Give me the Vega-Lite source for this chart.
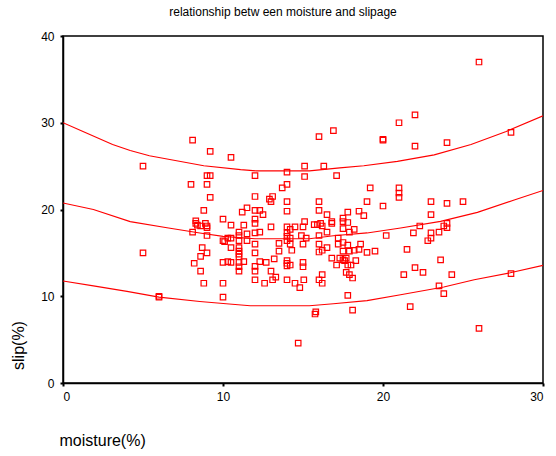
{
  "$schema": "https://vega.github.io/schema/vega-lite/v6.json",
  "width": 480,
  "height": 347,
  "autosize": {"type": "none"},
  "padding": {"left": 63, "top": 36, "right": 13, "bottom": 73},
  "background": "white",
  "title": {"text": "relationship betw een moisture and slipage", "font": "Liberation Sans", "fontSize": 12, "fontWeight": "normal", "color": "black", "offset": 11, "anchor": "middle", "dx": -20},
  "config": {
    "view": {"stroke": "black", "strokeWidth": 1.5},
    "axis": {"domainColor": "black", "domainWidth": 1.5, "tickColor": "black", "tickSize": 3, "tickWidth": 2, "grid": false, "labelFont": "Liberation Sans", "labelFontSize": 12, "labelColor": "black", "titleFont": "Liberation Sans", "titleFontSize": 16, "titleFontWeight": "normal", "titleColor": "black"}
  },
  "datasets": {
    "pts": [
      {"m":8.1,"s":28.0},{"m":9.2,"s":26.7},{"m":10.5,"s":26.0},{"m":5.0,"s":25.0},{"m":9.0,"s":23.9},{"m":9.2,"s":23.9},{"m":12.0,"s":23.9},{"m":14.0,"s":24.3},{"m":15.1,"s":25.0},{"m":15.1,"s":23.8},
      {"m":8.0,"s":22.9},{"m":9.0,"s":22.9},{"m":14.0,"s":22.9},{"m":13.7,"s":22.5},{"m":12.0,"s":21.5},{"m":9.2,"s":21.4},{"m":12.9,"s":21.2},{"m":13.1,"s":21.5},{"m":13.0,"s":20.9},{"m":14.0,"s":20.9},
      {"m":11.5,"s":20.2},{"m":26.0,"s":37.0},{"m":22.0,"s":30.9},{"m":21.0,"s":30.0},{"m":16.9,"s":29.1},{"m":16.0,"s":28.4},{"m":20.0,"s":28.1},{"m":20.0,"s":28.0},{"m":22.0,"s":27.3},{"m":24.0,"s":27.7},
      {"m":28.0,"s":28.9},{"m":16.3,"s":25.0},{"m":17.1,"s":23.9},{"m":19.2,"s":22.5},{"m":21.0,"s":22.5},{"m":21.0,"s":21.9},{"m":21.0,"s":21.4},{"m":16.0,"s":20.9},{"m":19.0,"s":20.9},{"m":20.0,"s":20.4},
      {"m":23.0,"s":20.9},{"m":24.0,"s":20.7},{"m":25.0,"s":20.9},{"m":16.0,"s":19.9},{"m":8.8,"s":19.9},{"m":11.2,"s":19.7},{"m":12.0,"s":19.9},{"m":12.3,"s":19.9},{"m":14.0,"s":19.8},{"m":12.5,"s":19.4},
      {"m":10.0,"s":18.9},{"m":12.0,"s":18.9},{"m":12.0,"s":18.4},{"m":8.3,"s":18.7},{"m":8.3,"s":18.4},{"m":8.4,"s":18.2},{"m":8.6,"s":18.1},{"m":8.9,"s":18.4},{"m":9.0,"s":18.1},{"m":9.0,"s":17.9},
      {"m":8.1,"s":17.4},{"m":9.0,"s":17.0},{"m":10.5,"s":18.2},{"m":11.3,"s":18.2},{"m":13.0,"s":18.0},{"m":11.0,"s":17.4},{"m":11.0,"s":17.0},{"m":11.5,"s":17.2},{"m":12.0,"s":17.3},{"m":12.3,"s":17.4},
      {"m":10.0,"s":16.4},{"m":10.1,"s":16.3},{"m":10.3,"s":16.7},{"m":10.5,"s":16.7},{"m":11.0,"s":16.4},{"m":11.5,"s":16.4},{"m":12.0,"s":16.0},{"m":14.0,"s":18.0},{"m":14.2,"s":17.7},{"m":14.5,"s":18.0},
      {"m":14.0,"s":17.3},{"m":14.0,"s":16.9},{"m":14.0,"s":16.4},{"m":14.2,"s":16.7},{"m":15.1,"s":18.6},{"m":15.0,"s":18.0},{"m":14.9,"s":17.0},{"m":15.2,"s":16.7},{"m":15.0,"s":16.0},{"m":14.2,"s":16.0},
      {"m":13.5,"s":16.1},{"m":13.5,"s":15.2},{"m":14.3,"s":15.3},{"m":8.7,"s":15.6},{"m":9.0,"s":15.0},{"m":8.6,"s":14.6},{"m":10.5,"s":15.6},{"m":11.0,"s":15.6},{"m":11.0,"s":15.2},{"m":11.0,"s":14.85},
      {"m":11.0,"s":14.55},{"m":12.0,"s":15.0},{"m":8.2,"s":13.8},{"m":8.6,"s":12.9},{"m":10.0,"s":13.9},{"m":10.3,"s":14.0},{"m":10.5,"s":13.9},{"m":11.0,"s":13.9},{"m":11.3,"s":14.0},{"m":11.0,"s":13.4},
      {"m":11.0,"s":12.9},{"m":12.0,"s":13.45},{"m":12.0,"s":12.9},{"m":12.3,"s":14.0},{"m":12.7,"s":13.9},{"m":13.2,"s":14.3},{"m":14.0,"s":14.1},{"m":14.0,"s":13.8},{"m":14.0,"s":13.5},{"m":14.2,"s":13.6},
      {"m":15.0,"s":13.9},{"m":15.0,"s":13.4},{"m":13.0,"s":12.9},{"m":12.0,"s":11.9},{"m":12.6,"s":11.5},{"m":13.1,"s":11.9},{"m":13.3,"s":12.2},{"m":14.0,"s":11.9},{"m":14.5,"s":11.5},{"m":14.8,"s":11.0},
      {"m":15.05,"s":11.9},{"m":8.8,"s":11.5},{"m":10.0,"s":11.5},{"m":10.0,"s":9.9},{"m":5.0,"s":15.0},{"m":6.0,"s":9.9},{"m":6.0,"s":10.0},{"m":14.7,"s":4.6},{"m":16.5,"s":19.4},{"m":16.8,"s":18.6},
      {"m":16.8,"s":18.4},{"m":17.5,"s":19.0},{"m":17.5,"s":18.6},{"m":17.8,"s":19.7},{"m":17.8,"s":18.5},{"m":18.5,"s":19.8},{"m":18.8,"s":19.3},{"m":15.7,"s":18.25},{"m":15.9,"s":18.25},{"m":16.1,"s":18.4},
      {"m":16.2,"s":18.1},{"m":17.5,"s":17.8},{"m":17.9,"s":17.4},{"m":18.2,"s":17.7},{"m":16.5,"s":17.4},{"m":16.0,"s":17.0},{"m":17.2,"s":16.7},{"m":17.2,"s":16.0},{"m":17.5,"s":16.2},{"m":17.8,"s":15.9},
      {"m":17.9,"s":15.2},{"m":17.5,"s":15.2},{"m":18.2,"s":15.3},{"m":18.5,"s":15.4},{"m":18.6,"s":16.0},{"m":16.0,"s":16.0},{"m":16.0,"s":15.1},{"m":16.2,"s":15.3},{"m":16.5,"s":15.6},{"m":19.0,"s":15.05},
      {"m":19.5,"s":15.2},{"m":20.2,"s":17.0},{"m":21.9,"s":17.3},{"m":22.3,"s":18.1},{"m":23.0,"s":17.3},{"m":23.0,"s":16.7},{"m":22.8,"s":16.4},{"m":23.5,"s":17.4},{"m":23.8,"s":18.1},{"m":24.0,"s":18.4},
      {"m":24.0,"s":17.9},{"m":21.5,"s":15.4},{"m":23.6,"s":14.2},{"m":16.8,"s":14.4},{"m":17.1,"s":13.6},{"m":17.3,"s":14.4},{"m":17.5,"s":14.2},{"m":17.7,"s":14.4},{"m":17.6,"s":14.1},{"m":17.8,"s":13.6},
      {"m":18.0,"s":13.6},{"m":18.3,"s":14.1},{"m":16.0,"s":11.9},{"m":16.2,"s":12.5},{"m":16.2,"s":11.5},{"m":17.7,"s":12.75},{"m":17.9,"s":12.5},{"m":18.1,"s":12.1},{"m":21.3,"s":12.5},{"m":22.0,"s":13.3},
      {"m":22.5,"s":12.75},{"m":24.3,"s":12.5},{"m":23.5,"s":11.2},{"m":23.8,"s":10.3},{"m":28.0,"s":12.6},{"m":17.8,"s":10.1},{"m":21.7,"s":8.8},{"m":15.75,"s":7.95},{"m":15.8,"s":8.2},{"m":18.1,"s":8.4},
      {"m":26.0,"s":6.3},{"m":23.0,"s":19.4}
    ],
    "curves": [
      {"c":"upper","m":0,"s":30.0},{"c":"upper","m":1.25,"s":29.0},{"c":"upper","m":3.1,"s":27.5},{"c":"upper","m":4.2,"s":26.8},{"c":"upper","m":5.4,"s":26.2},{"c":"upper","m":8.8,"s":25.05},{"c":"upper","m":11.1,"s":24.6},{"c":"upper","m":12.1,"s":24.45},{"c":"upper","m":15.4,"s":24.45},{"c":"upper","m":17.3,"s":24.8},{"c":"upper","m":18.8,"s":25.05},{"c":"upper","m":20.9,"s":25.55},{"c":"upper","m":23.2,"s":26.3},{"c":"upper","m":25.5,"s":27.5},{"c":"upper","m":27.7,"s":29.0},{"c":"upper","m":30,"s":30.8},
      {"c":"fit","m":0,"s":20.75},{"c":"fit","m":1.9,"s":20.0},{"c":"fit","m":4.2,"s":18.6},{"c":"fit","m":6.5,"s":17.9},{"c":"fit","m":8.55,"s":17.3},{"c":"fit","m":10,"s":16.9},{"c":"fit","m":12,"s":16.63},{"c":"fit","m":15.4,"s":16.63},{"c":"fit","m":16.9,"s":16.98},{"c":"fit","m":19,"s":17.3},{"c":"fit","m":21.1,"s":17.87},{"c":"fit","m":23.6,"s":18.63},{"c":"fit","m":25.9,"s":19.67},{"c":"fit","m":28.2,"s":21.1},{"c":"fit","m":30,"s":22.2},
      {"c":"lower","m":0,"s":11.76},{"c":"lower","m":1.9,"s":11.2},{"c":"lower","m":4,"s":10.56},{"c":"lower","m":6,"s":9.9},{"c":"lower","m":8.55,"s":9.4},{"c":"lower","m":10.2,"s":9.14},{"c":"lower","m":11.7,"s":8.91},{"c":"lower","m":15.4,"s":8.91},{"c":"lower","m":16.9,"s":9.14},{"c":"lower","m":19,"s":9.5},{"c":"lower","m":21.1,"s":10.18},{"c":"lower","m":23.8,"s":11.07},{"c":"lower","m":25.7,"s":11.9},{"c":"lower","m":27.95,"s":12.7},{"c":"lower","m":30,"s":13.56}
    ]
  },
  "encoding": {
    "x": {"field": "m", "type": "quantitative", "scale": {"domain": [0, 30], "nice": false, "zero": false},
      "axis": {"values": [0, 10, 20, 30], "title": "moisture(%)", "titleX": -4, "titleY": 57, "titleAlign": "left", "titleBaseline": "middle", "labelPadding": 5}},
    "y": {"field": "s", "type": "quantitative", "scale": {"domain": [0, 40], "nice": false, "zero": false},
      "axis": {"values": [0, 10, 20, 30, 40], "title": "slip(%)", "titleX": -45, "titleY": 309, "titleAngle": -90, "titleAlign": "center", "titleBaseline": "middle", "labelPadding": 6}}
  },
  "layer": [
    {
      "data": {"name": "curves"},
      "mark": {"type": "line", "color": "#ff0000", "strokeWidth": 1.1, "clip": true},
      "encoding": {"detail": {"field": "c", "type": "nominal"}}
    },
    {
      "data": {"name": "pts"},
      "mark": {"type": "point", "shape": "square", "filled": false, "stroke": "#ff0000", "strokeWidth": 1.2, "size": 30, "opacity": 1}
    }
  ]
}
